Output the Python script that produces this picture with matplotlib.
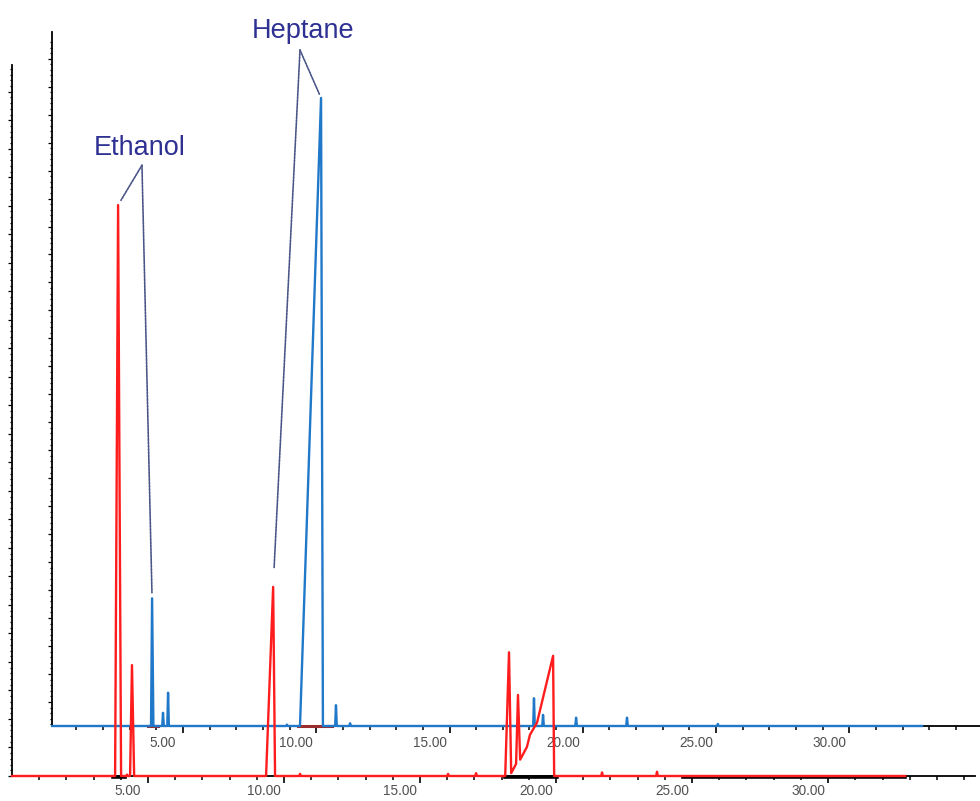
import matplotlib
matplotlib.use("Agg")
import matplotlib.pyplot as plt
import matplotlib.transforms as mtransforms
import numpy as np

plt.rcParams['font.family'] = ['Liberation Sans', 'DejaVu Sans']

# upper trace (blue): peaks as start / apex / end retention time (min) and apex abundance (%)
blue_start = [3.80, 4.22, 4.41, 8.87, 9.39, 10.71, 11.24, 18.14, 18.48, 19.72, 21.63, 25.04]
blue_apex = [3.84, 4.25, 4.44, 8.90, 10.18, 10.74, 11.27, 18.17, 18.51, 19.75, 21.66, 25.07]
blue_end = [3.89, 4.28, 4.47, 8.93, 10.25, 10.77, 11.30, 18.20, 18.54, 19.78, 21.69, 25.10]
blue_height = [18.4, 1.9, 4.8, 0.2, 90.5, 3.0, 0.4, 4.0, 1.6, 1.2, 1.2, 0.3]
blue_run = [0.09, 32.73]

# lower trace (red): retention time (min) and abundance (%)
red_time = [0.0, 3.79, 3.90, 4.01, 4.20, 4.23, 4.26, 4.34, 4.41, 4.49,
            9.34, 9.60, 9.67, 10.56, 10.59, 10.62, 16.00, 16.03, 16.06,
            17.03, 17.06, 17.09, 18.13, 18.27, 18.35, 18.53, 18.60, 18.68,
            18.93, 19.04, 19.30, 19.89, 19.93, 21.66, 21.69, 21.72,
            23.68, 23.71, 23.74, 32.83]
red_abund = [0, 0, 80.3, 0, 0, 0.2, 0, 0, 15.6, 0,
             0, 26.6, 0, 0, 0.3, 0, 0, 0.3, 0,
             0, 0.4, 0, 0, 17.4, 0.4, 1.7, 11.4, 2.3,
             4.1, 5.8, 7.5, 16.9, 0, 0, 0.5, 0,
             0, 0.6, 0, 0]

# integration baseline marks
blue_marks = [(3.69, 4.06), (9.32, 10.59)]
red_marks = [(3.71, 4.15), (18.13, 20.04), (24.67, 32.83)]

tick_values = [5, 10, 15, 20, 25, 30]
compounds = ["Ethanol", "Heptane"]
blue_peak_of = [0, 4]          # index into blue peaks
red_peak_of = [(3.90, 80.3), (9.60, 26.6)]

BLUE = '#1f78c8'
RED = '#ff1c1c'
NAVY = '#2e3192'
LEAD = '#4a5588'

W, H = 980, 801
fig = plt.figure(figsize=(W / 100, H / 100), dpi=100)


def px_axes(l, t, r, b):
    return fig.add_axes([l / W, 1 - b / H, (r - l) / W, (b - t) / H])


ax_blue = px_axes(52, 32, 980, 726)
ax_red = px_axes(12, 65, 975, 776)
ax_red.set_zorder(3)
ax_blue.set_zorder(2)

for ax in (ax_blue, ax_red):
    ax.set_facecolor('none')
    ax.spines['top'].set_visible(False)
    ax.spines['right'].set_visible(False)
    ax.spines['left'].set_linewidth(1.3)
    ax.spines['bottom'].set_linewidth(1.3)
    ax.set_ylim(0, 100)
    ax.set_xticks(tick_values)
    ax.set_xticklabels(["%.2f" % v for v in tick_values])
    ax.set_yticklabels([])
    ax.tick_params(axis='x', which='major', direction='out', length=5, width=1.2,
                   labelsize=9.8, labelcolor='#505050')
    ax.tick_params(axis='x', which='minor', direction='out', length=3, width=1.1)
    ax.tick_params(axis='y', which='major', direction='out', length=3, width=0.9)
    ax.tick_params(axis='y', which='minor', direction='out', length=1.5, width=0.9)

ax_blue.set_xlim(0.0845, 34.906)
ax_red.set_xlim(0.0, 35.40)
ax_blue.set_xticks(np.arange(1, 35), minor=True)
ax_red.set_xticks(np.arange(1, 36), minor=True)
ax_blue.tick_params(axis='x', which='major', pad=2.5)
ax_red.tick_params(axis='x', which='major', pad=0.5)

# y tick marks
blue_step = 4.03
ax_blue.set_yticks(3.46 + blue_step * np.arange(24))
ax_blue.set_yticks(3.46 - blue_step + blue_step / 5 * np.arange(1, 124), minor=True)
ax_blue.set_yticklabels([])
ax_red.set_yticks(4.01 * np.arange(25))
ax_red.set_yticks(4.01 / 5 * np.arange(125), minor=True)
ax_red.set_yticklabels([])

# shift x labels left of their tick, as in the instrument printout
shift = mtransforms.ScaledTranslation(-20 / 100, 0, fig.dpi_scale_trans)
for ax in (ax_blue, ax_red):
    for lab in ax.get_xticklabels():
        lab.set_transform(lab.get_transform() + shift)

# build blue polyline
bt = [blue_run[0]]
ba = [0]
for s, a, e, h in zip(blue_start, blue_apex, blue_end, blue_height):
    bt += [s, a, e]
    ba += [0, h, 0]
bt.append(blue_run[1])
ba.append(0)

for s, e in blue_marks:
    ax_blue.plot([s, e], [0, 0], color='#9b2d2d', lw=2.2, clip_on=False, zorder=3)
ax_blue.plot(bt, ba, color=BLUE, lw=1.7, clip_on=False, zorder=4)

for s, e in red_marks:
    ax_red.plot([s, e], [-0.15, -0.15], color='black', lw=2.6, clip_on=False, zorder=3)
ax_red.plot(red_time, red_abund, color=RED, lw=1.7, clip_on=False, zorder=4)

# labels with leader lines
label_pos = [(3.39, 83.3), (9.50, 100.1)]
lead_from = [(3.46, 80.8), (9.39, 97.4)]
blue_shrink = [4, 3]
red_shrink = [4, 14]
for i, name in enumerate(compounds):
    ax_blue.text(*label_pos[i], name, color=NAVY, fontsize=19.5, ha='center', va='center',
                 zorder=6, clip_on=False)
    k = blue_peak_of[i]
    ax_blue.annotate('', xy=(blue_apex[k], blue_height[k]), xycoords=ax_blue.transData,
                     xytext=lead_from[i], textcoords=ax_blue.transData, annotation_clip=False,
                     arrowprops=dict(arrowstyle='-', shrinkA=0, shrinkB=blue_shrink[i],
                                     color=LEAD, lw=1.2, linestyle=(0, (1.2, 0.8))))
    ax_blue.annotate('', xy=red_peak_of[i], xycoords=ax_red.transData,
                     xytext=lead_from[i], textcoords=ax_blue.transData, annotation_clip=False,
                     arrowprops=dict(arrowstyle='-', shrinkA=0, shrinkB=red_shrink[i],
                                     color=LEAD, lw=1.2, linestyle=(0, (1.2, 0.8))))

fig.savefig('out.png', dpi=100)
